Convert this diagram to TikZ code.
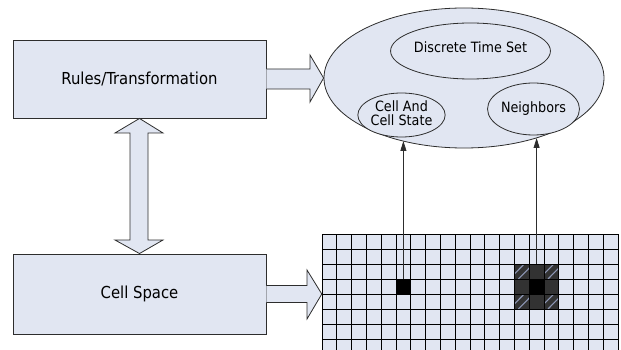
\documentclass[tikz,border=0pt]{standalone}
\usepackage{fontspec}
\setmainfont{DejaVu Sans Condensed}
\usetikzlibrary{shapes.geometric,arrows.meta,calc}
\definecolor{paleblue}{RGB}{225,230,242}
\definecolor{outline}{RGB}{45,45,45}
\definecolor{darkcell}{RGB}{50,50,50}
\definecolor{hatch}{RGB}{140,150,180}
\tikzset{
  box/.style={draw=outline, line width=0.9pt, fill=paleblue, inner sep=0pt,
    minimum width=253pt, minimum height=78pt, font=\fontsize{16.5}{19}\selectfont},
  oval/.style={ellipse, draw=outline, line width=0.8pt, fill=paleblue, inner sep=0pt,
    font=\fontsize{14.2}{17}\selectfont, align=center},
  blockarrow/.style={draw=outline, line width=0.8pt, fill=paleblue, line join=miter},
  gridline/.style={black, line width=0.9pt},
  pointer/.style={draw=outline, line width=0.8pt, -{Triangle[length=10pt,width=6pt]}},
  cellmark/.style={inner sep=0pt, minimum width=14.8pt, minimum height=15pt},
}
\begin{document}
\begin{tikzpicture}[x=1pt,y=-1pt]
\useasboundingbox (0,0) rectangle (621,350);

% left-hand blocks
\node[box] (rules) at (139.5,79) {Rules/Transformation};
\node[box, minimum height=80pt] (space) at (139.5,294) {Cell Space};

% model components
\node[oval, minimum width=280pt, minimum height=140pt] (model) at (464,78) {};
\node[oval, minimum width=149pt, minimum height=56pt] (time) at (470.5,51) {\raisebox{7pt}{Discrete Time Set}};
\node[oval, minimum width=85pt, minimum height=44pt] (state) at (401.5,115) {\raisebox{3pt}{\shortstack{Cell And\\Cell State}}};
\node[oval, minimum width=87pt, minimum height=52pt] (nbrs) at (533.5,109) {Neighbors};

% cell lattice
\fill[paleblue] (322,234) rectangle (618,350);
\node[inner sep=0pt, minimum width=296pt, minimum height=116pt] (grid) at (470,292) {};
% neighbourhood block (rows 2-4, columns 13-15) and single cell
\fill[darkcell] ({322+13*14.8},264) rectangle ({322+16*14.8},309);
\fill[black] ({322+14*14.8},279) rectangle ({322+15*14.8},294);
\fill[black] ({322+5*14.8},279) rectangle ({322+6*14.8},294);
% diagonal hatching in the corner cells
\foreach \cx/\cy in {13/264, 15/264, 13/294, 15/294}{
  \begin{scope}
    \clip ({322+\cx*14.8},\cy) rectangle ({322+(\cx+1)*14.8},\cy+15);
    \foreach \d in {-5,4}
      \draw[hatch, line width=1.1pt] ({322+\cx*14.8+\d},\cy+15) -- ({322+(\cx+1)*14.8+\d},\cy);
  \end{scope}
}
\foreach \i in {0,...,20}
  \draw[gridline] ({322+\i*14.8},234) -- ({322+\i*14.8},350);
\foreach \j in {0,...,7}
  \draw[gridline] (322,{234+15*\j}) -- (618,{234+15*\j});
\node[cellmark] (cell) at ({322+5.5*14.8},286.5) {};
\node[cellmark, minimum width=44.4pt, minimum height=45pt] (hood) at ({322+14.5*14.8},286.5) {};

% block arrows
\draw[blockarrow] ($(rules.east)+(0,-10)$) -- (310,69) -- (310,55) -- (model.west)
  -- (310,102) -- (310,89) -- ($(rules.east)+(0,10)$);
\coordinate (gridin) at (grid.west |- space.east);
\draw[blockarrow] ($(space.east)+(0,-8.5)$) -- (307,285.5) -- (307,270) -- (gridin)
  -- (307,319) -- (307,302.5) -- ($(space.east)+(0,8.5)$);
\draw[blockarrow] (rules.south) -- (163,133) -- (148,133) -- (148,240) -- (163,240)
  -- (space.north) -- (115,240) -- (130,240) -- (130,133) -- (115,133) -- cycle;

% lattice to model
\coordinate (stateport) at ({322+5.5*14.8},141);
\coordinate (hoodport) at ({322+14.5*14.8},138);
\draw[pointer] (cell.north) -- (stateport);
\draw[pointer] (hood.north) -- (hoodport);
\end{tikzpicture}
\end{document}
